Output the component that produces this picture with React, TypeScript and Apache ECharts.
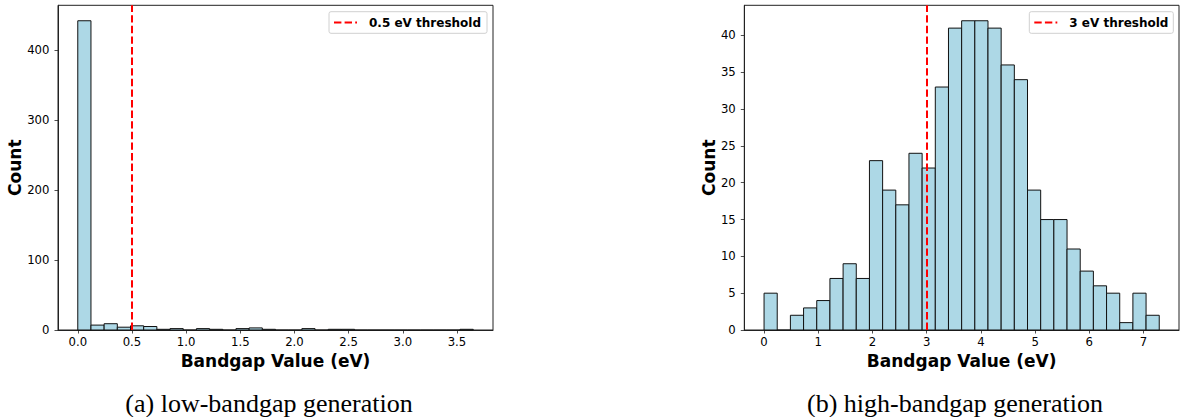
import React, { useEffect, useRef } from "react";
import * as echarts from "echarts";

// Histogram counts (30 bins each)
const lowCounts = [442, 7, 9, 4, 6, 5, 1, 2, 0, 2, 1, 0, 2, 3, 1, 0, 0, 2, 0, 1, 1, 0, 0, 0, 0, 0, 0, 0, 0, 1];
const highCounts = [5, 0, 2, 3, 4, 7, 9, 7, 23, 19, 17, 24, 22, 33, 41, 42, 42, 41, 36, 34, 19, 15, 15, 11, 8, 6, 5, 1, 5, 2];
// Data range of each histogram (eV)
const lowRange = [0, 3.65];
const highRange = [0, 7.29];
const lowThreshold = 0.5;
const highThreshold = 3;
const lowThresholdLabel = "0.5 eV threshold";
const highThresholdLabel = "3 eV threshold";
// Tick labels
const lowXTicks = [0, 0.5, 1, 1.5, 2, 2.5, 3, 3.5];
const highXTicks = [0, 1, 2, 3, 4, 5, 6, 7];
const lowYTicks = [0, 100, 200, 300, 400];
const highYTicks = [0, 5, 10, 15, 20, 25, 30, 35, 40];
const xName = "Bandgap Value (eV)";
const yName = "Count";
const captionA = "(a) low-bandgap generation";
const captionB = "(b) high-bandgap generation";

const FONT = "DejaVu Sans";

function bins(counts: number[], range: number[]) {
  const w = (range[1] - range[0]) / counts.length;
  return counts.map((c, i) => [range[0] + i * w, range[0] + (i + 1) * w, c]);
}

function renderBar(params: any, api: any) {
  const x0 = api.value(0);
  const x1 = api.value(1);
  const c = api.value(2);
  const p0 = api.coord([x0, 0]);
  const p1 = api.coord([x1, c]);
  if (c === 0) {
    return {
      type: "line",
      shape: { x1: p0[0], y1: p0[1], x2: p1[0], y2: p0[1] },
      style: { stroke: "#111", lineWidth: 1 },
    };
  }
  return {
    type: "rect",
    shape: { x: p0[0], y: p1[1], width: p1[0] - p0[0], height: p0[1] - p1[1] },
    style: { fill: "#ADD8E6", stroke: "#111", lineWidth: 1 },
  };
}

function xAxisCfg(idx: number, range: number[], ticks: number[], digits: number) {
  const pad = (range[1] - range[0]) * 0.05;
  return {
    type: "value",
    gridIndex: idx,
    min: range[0] - pad,
    max: range[1] + pad,
    name: xName,
    nameLocation: "middle",
    nameGap: 21,
    nameTextStyle: { fontFamily: FONT, fontWeight: "bold", fontSize: 17, color: "#000" },
    axisLine: { show: true, onZero: false, lineStyle: { color: "#222", width: 1 } },
    splitLine: { show: false },
    axisTick: { show: true, inside: false, length: 3.5, lineStyle: { color: "#222", width: 0.8 }, customValues: ticks },
    axisLabel: {
      customValues: ticks,
      formatter: (v: number) => v.toFixed(digits),
      fontFamily: FONT,
      fontSize: 11.7,
      color: "#000",
      margin: 6,
    },
  };
}

function yAxisCfg(idx: number, counts: number[], ticks: number[], gap: number) {
  const max = Math.max(...counts) * 1.05;
  return {
    type: "value",
    gridIndex: idx,
    min: 0,
    max,
    name: yName,
    nameLocation: "middle",
    nameGap: gap,
    nameTextStyle: { fontFamily: FONT, fontWeight: "bold", fontSize: 17, color: "#000" },
    axisLine: { show: true, onZero: false, lineStyle: { color: "#222", width: 1 } },
    splitLine: { show: false },
    axisTick: { show: true, inside: false, length: 3.5, lineStyle: { color: "#222", width: 0.8 }, customValues: ticks },
    axisLabel: {
      customValues: ticks,
      fontFamily: FONT,
      fontSize: 11.7,
      color: "#000",
      margin: 8.5,
    },
  };
}

function legendGraphic(box: number[], label: string) {
  const [x, y, w, h] = box;
  return {
    type: "group",
    children: [
      {
        type: "rect",
        shape: { x, y, width: w, height: h, r: 2 },
        style: { fill: "rgba(255,255,255,0.8)", stroke: "#d0d0d0", lineWidth: 1 },
      },
      {
        type: "line",
        shape: { x1: x + 5, y1: y + h / 2, x2: x + 28, y2: y + h / 2 },
        style: { stroke: "#ff0000", lineWidth: 2, lineDash: [7.4, 3.2] },
      },
      {
        type: "text",
        x: x + 40,
        y: y + h / 2,
        style: {
          text: label,
          fontFamily: FONT,
          fontWeight: "bold",
          fontSize: 12,
          fill: "#000",
          textVerticalAlign: "middle",
          verticalAlign: "middle",
        },
      },
    ],
  };
}

function thresholdSeries(idx: number, value: number, name: string) {
  return {
    type: "line",
    name,
    xAxisIndex: idx,
    yAxisIndex: idx,
    data: [],
    silent: true,
    markLine: {
      silent: true,
      symbol: "none",
      label: { show: false },
      lineStyle: { color: "#ff0000", width: 2, type: [7.4, 3.2] },
      data: [{ xAxis: value }],
    },
  };
}

function caption(text: string, x: number) {
  return {
    type: "text",
    x,
    y: 403,
    style: {
      text,
      fontFamily: "Liberation Serif",
      fontSize: 26,
      fill: "#000",
      textAlign: "center",
      align: "center",
      textVerticalAlign: "middle",
      verticalAlign: "middle",
    },
  };
}

export default function App() {
  const ref = useRef<HTMLDivElement>(null);
  useEffect(() => {
    document.body.style.margin = "0";
    if (!ref.current) return;
    const chart = echarts.init(ref.current, null, { renderer: "svg" });
    const option: any = {
      animation: false,
      backgroundColor: "#fff",
      grid: [
        { left: 58, top: 5.3, width: 435, height: 324.7, show: true, borderColor: "#222", borderWidth: 1, backgroundColor: "transparent" },
        { left: 744.3, top: 5.3, width: 434.7, height: 324.7, show: true, borderColor: "#222", borderWidth: 1, backgroundColor: "transparent" },
      ],
      xAxis: [xAxisCfg(0, lowRange, lowXTicks, 1), xAxisCfg(1, highRange, highXTicks, 0)],
      yAxis: [yAxisCfg(0, lowCounts, lowYTicks, 35), yAxisCfg(1, highCounts, highYTicks, 27)],
      series: [
        {
          type: "custom",
          xAxisIndex: 0,
          yAxisIndex: 0,
          renderItem: renderBar,
          encode: { x: [0, 1], y: 2 },
          data: bins(lowCounts, lowRange),
        },
        {
          type: "custom",
          xAxisIndex: 1,
          yAxisIndex: 1,
          renderItem: renderBar,
          encode: { x: [0, 1], y: 2 },
          data: bins(highCounts, highRange),
        },
        thresholdSeries(0, lowThreshold, lowThresholdLabel),
        thresholdSeries(1, highThreshold, highThresholdLabel),
      ],
      graphic: [
        legendGraphic([329, 11.7, 158, 21.6], lowThresholdLabel),
        legendGraphic([1029.3, 11.7, 144, 21.6], highThresholdLabel),
        caption(captionA, 269),
        caption(captionB, 955),
      ],
    };
    chart.setOption(option);
    return () => chart.dispose();
  }, []);
  return <div ref={ref} style={{ width: 1180, height: 417 }} />;
}
